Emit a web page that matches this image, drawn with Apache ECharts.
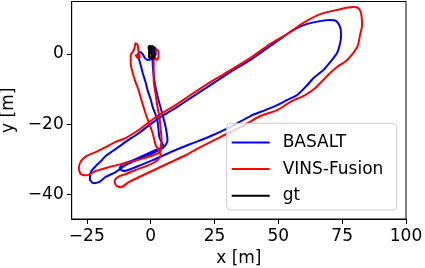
<!DOCTYPE html>
<html>
<head>
<meta charset="utf-8">
<script src="https://cdn.jsdelivr.net/npm/echarts@6/dist/echarts.min.js"></script>
<style>
html,body{margin:0;padding:0;background:#fff;}
#chart{width:425px;height:268px;}
</style>
</head>
<body>
<div id="chart"></div>
<script>
// Trajectory estimates [x (m), y (m)]
const basaltPath = [
[0,0],[0.4,1.1],[1.2,2.0],[2.0,1.4],[2.0,0],[1.2,-1.1],[-1.2,-1.7],[-2.3,-1.1],[-3.1,0],[-4.3,0.6],[-5.1,-0.3],[-4.7,-1.1],
[-3.9,-3.1],[-3.1,-5.4],[-2.0,-8.0],[-1.2,-10.3],[0,-12.9],[0.8,-15.1],[2.0,-17.4],[2.7,-19.1],[3.1,-21.7],[3.5,-24.0],[4.7,-25.7],[5.1,-26.6],
[3.1,-27.4],[0,-28.6],[-4.7,-30.0],[-9.8,-31.7],[-13.7,-33.7],[-17.6,-35.1],[-20.3,-36.6],[-22.3,-36.9],[-23.8,-35.7],[-23.4,-33.7],[-21.5,-32.0],[-19.5,-30.6],[-17.6,-29.1],[-14.8,-27.7],[-9.8,-25.1],[-4.7,-22.6],[0,-20.0],[3.9,-18.0],[9.8,-15.4],[15.6,-12.6],[23.4,-8.9],[31.3,-5.1],[39.1,-1.7],[44.1,0.9],[50.8,4.3],[55.9,6.9],[61.3,8.6],[66.4,9.4],[70.3,9.7],[72.7,9.4],[74.2,7.7],[74.6,5.4],[74.2,3.1],[73.0,0.3],[70.3,-2.3],[67.6,-4.6],[63.7,-6.9],[61.3,-8.9],[57.4,-11.7],[53.5,-13.1],[49.6,-14.6],[44.9,-16.0],[39.1,-17.7],[30.5,-21.1],[22.7,-23.7],[15.6,-25.7],[9.8,-27.4],[0.8,-30.3],[-7.0,-32.6],[-10.5,-33.4],[-12.1,-32.6],[-10.9,-31.4],[-7.8,-30.6],[-3.1,-29.1],[2.0,-27.4],[5.5,-26.3],[6.6,-24.6],
[5.9,-20.9],[4.7,-17.4],[3.1,-13.1],[2.0,-9.7],[1.2,-6.0],[0.8,-2.6],[0.8,-0.3],[0.4,1.1],[-0.4,0.6]
];
const vinsPath = [
[0,0],[1.6,0.6],[2.3,1.4],[3.1,0.6],[3.1,-0.9],[2.3,-1.7],[1.6,-0.6],[1.2,-2.3],[1.2,-7.4],[2.0,-11.7],[2.7,-15.1],[3.5,-18.3],[3.9,-21.1],[4.3,-24.6],[3.9,-26.9],[3.9,-27.7],
[2.0,-28.6],[-3.9,-30.0],[-9.8,-31.1],[-16.4,-32.3],[-21.5,-33.4],[-25.0,-34.6],[-27.3,-34.3],[-28.1,-32.6],[-27.3,-30.6],[-25.0,-29.1],[-21.5,-28.0],[-17.6,-26.6],[-13.7,-25.1],[-9.8,-24.0],[-4.7,-21.7],[0,-19.1],[3.9,-17.1],[9.8,-14.6],[15.6,-11.7],[23.4,-8.0],[31.3,-4.6],[39.1,-1.1],[46.9,2.9],[54.7,6.3],[59.8,8.9],[66.4,11.4],[73.0,12.6],[79.3,13.4],[81.3,13.1],[82.4,11.7],[82.8,8.3],[82.0,5.4],[80.9,2.0],[77.0,-1.7],[73.0,-3.7],[70.3,-5.4],[67.6,-7.4],[64.5,-9.7],[60.5,-11.7],[54.7,-13.7],[49.6,-16.0],[43.0,-17.7],[35.2,-20.9],[27.3,-23.7],[19.5,-26.6],[13.7,-28.9],[7.8,-30.9],[2.0,-32.9],[-3.9,-34.9],[-8.6,-36.6],[-11.7,-38.0],[-13.3,-37.7],[-14.1,-36.3],[-12.9,-35.1],[-9.8,-34.3],[-5.9,-33.1],[-0.8,-31.7],[2.7,-30.3],[3.9,-28.9],[3.1,-27.4],
[2.0,-26.0],[0.8,-22.6],[-0.8,-19.4],[-2.0,-16.9],[-3.5,-13.4],[-4.7,-10.3],[-5.9,-8.0],[-7.0,-5.4],[-7.8,-2.6],[-7.8,-0.3],[-7.0,0.6],[-6.3,1.7],[-5.9,3.1],[-5.1,2.6],[-4.7,0.6],[-4.3,-0.9],[-5.1,-1.1],[-5.9,-0.3],[-3.9,-0.6]
];
const gtPath = [
[0,0],[-0.6,1.1],[-0.8,2.0],[-0.2,2.4],[0.4,1.7],[0.4,0],[0,-1.4],[-0.6,-0.9],[-0.6,0.6],[0,1.7],[0.8,2.3],[1.4,1.4],[1.4,-0.3],[0.9,-1.4],[0.3,-0.6]
];
const seriesNames = ['BASALT', 'VINS-Fusion', 'gt'];
const xTicks = [-25, 0, 25, 50, 75, 100];
const yTicks = [-40, -20, 0];

const FONT = '"DejaVu Sans"';
const FS = 17;
const fmt = v => String(v).replace('-', '\u2212');

const chart = echarts.init(document.getElementById('chart'), null, {renderer: 'canvas'});
const lineSeries = (name, data, color) => ({
  name, type: 'line', data, showSymbol: false, symbol: 'none', smooth: 0.25,
  lineStyle: {color, width: 2}, itemStyle: {color}, z: 2, silent: true
});
chart.setOption({
  animation: false,
  grid: {left: 71.7, right: 19, top: 1.5, bottom: 49, show: true, borderColor: '#000', borderWidth: 1,
         containLabel: false, outerBoundsMode: 'none'},
  xAxis: {
    type: 'value', min: -30.9, max: 100,
    name: 'x [m]', nameLocation: 'middle', nameGap: 28,
    nameTextStyle: {fontFamily: FONT, fontSize: FS, color: '#000'},
    axisLine: {show: true, onZero: false, lineStyle: {color: '#000', width: 1}},
    axisTick: {show: true, inside: false, length: 5, customValues: xTicks, lineStyle: {color: '#000'}},
    axisLabel: {customValues: xTicks, formatter: fmt, fontFamily: FONT, fontSize: FS, color: '#000', margin: 9},
    splitLine: {show: false}
  },
  yAxis: {
    type: 'value', min: -47.1, max: 15.0,
    name: 'y [m]', nameLocation: 'middle', nameGap: 48, nameRotate: 90,
    nameTextStyle: {fontFamily: FONT, fontSize: FS, color: '#000'},
    axisLine: {show: true, onZero: false, lineStyle: {color: '#000', width: 1}},
    axisTick: {show: true, inside: false, length: 5, customValues: yTicks, lineStyle: {color: '#000'}},
    axisLabel: {customValues: yTicks, formatter: fmt, fontFamily: FONT, fontSize: FS, color: '#000', margin: 8},
    splitLine: {show: false}
  },
  graphic: [{
    type: 'rect', z: 10,
    shape: {x: 226.7, y: 123.3, width: 170, height: 86.7, r: 4},
    style: {fill: 'rgba(255,255,255,0.8)', stroke: '#cccccc', lineWidth: 1}
  }],
  legend: {
    orient: 'vertical', left: 231.7, top: 132.5, padding: 0, z: 20,
    itemWidth: 38, itemHeight: 2, itemGap: 6.6, icon: 'rect',
    textStyle: {fontFamily: FONT, fontSize: FS, color: '#000', lineHeight: 20, padding: [0, 0, 0, 8]},
    data: seriesNames
  },
  series: [
    lineSeries(seriesNames[0], basaltPath, '#0000ff'),
    lineSeries(seriesNames[1], vinsPath, '#ff0000'),
    lineSeries(seriesNames[2], gtPath, '#000000')
  ]
});
</script>
</body>
</html>
